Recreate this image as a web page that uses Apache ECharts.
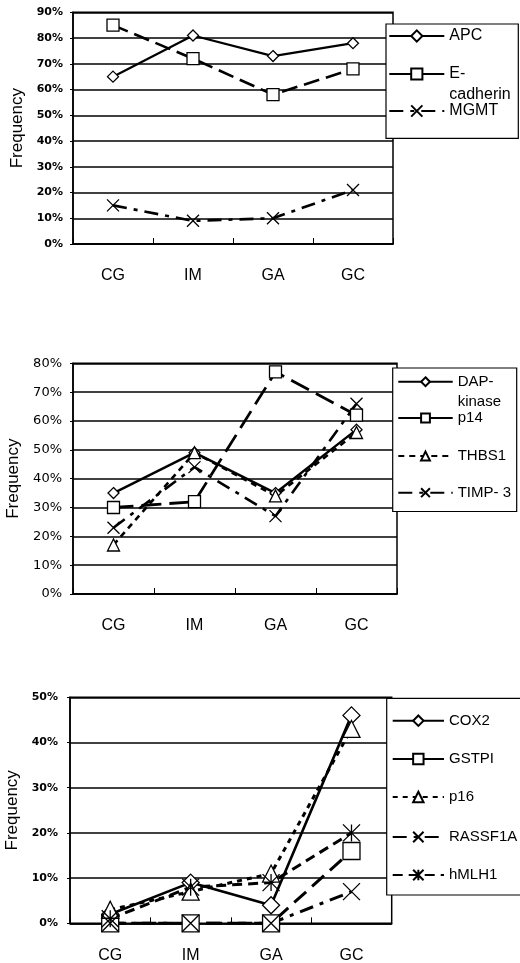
<!DOCTYPE html>
<html><head><meta charset="utf-8">
<script src="https://cdn.jsdelivr.net/npm/echarts@6/dist/echarts.min.js"></script>
<style>html,body{margin:0;padding:0;background:#fff}#c{width:520px;height:963px}</style>
</head><body><div id="c"></div>
<script>
// ---------- DATA ----------
const categories = ['CG', 'IM', 'GA', 'GC'];
const yAxisTitle = 'Frequency';
const yMax = [90, 80, 50];
const yStep = 10;

// Panel 1
const APC = [65, 81, 73, 78];
const E_cadherin = [85, 72, 58, 68];
const MGMT = [15, 9, 10, 21];
// Panel 2
const DAP_kinase = [35, 49, 35, 57];
const p14 = [30, 32, 77, 62];
const THBS1 = [17, 49, 34, 56];
const TIMP_3 = [23, 44, 27, 66];
// Panel 3
const COX2 = [2, 9, 4, 46];
const GSTPI = [0, 0, 0, 16];
const p16 = [3, 7, 11, 43];
const RASSF1A = [0, 0, 0, 7];
const hMLH1 = [1, 8, 9, 20];

const panelSeries = [
  [['APC', APC], ['E-cadherin', E_cadherin], ['MGMT', MGMT]],
  [['DAP-kinase', DAP_kinase], ['p14', p14], ['THBS1', THBS1], ['TIMP- 3', TIMP_3]],
  [['COX2', COX2], ['GSTPI', GSTPI], ['p16', p16], ['RASSF1A', RASSF1A], ['hMLH1', hMLH1]]
];
const legendLabel = { 'E-cadherin': '\nE-\ncadherin', 'DAP-kinase': '\nDAP-\nkinase' };

// ---------- STYLE / LAYOUT ----------
const ARIAL = 'Arial, "Liberation Sans", Helvetica, sans-serif';
const X_PATH = 'path://M0,0L10,10M10,0L0,10';
const AST_PATH = 'path://M0,0L10,10M10,0L0,10M5,0L5,10';

const grids = [
  { left: 73, top: 12.3, width: 320, height: 231.7 },
  { left: 73, top: 363.3, width: 324, height: 230.7 },
  { left: 70, top: 697.3, width: 321.7, height: 226 }
];
const yLabelStyle = [
  { fontFamily: '"DejaVu Sans", sans-serif', fontWeight: 'bold', fontSize: 11, margin: 10 },
  { fontFamily: '"DejaVu Sans", sans-serif', fontWeight: 'normal', fontSize: 13, margin: 11 },
  { fontFamily: '"DejaVu Sans", sans-serif', fontWeight: 'bold', fontSize: 11, margin: 12 }
];
const nameGaps = [40, 44, 39];

const seriesStyle = {
  'APC':        { symbol: 'diamond', size: 11, type: 'solid', width: 2.2 },
  'E-cadherin': { symbol: 'rect', size: 12, type: [16, 7], width: 2.6, legendSolid: true },
  'MGMT':       { symbol: X_PATH, size: 12, type: [14, 7, 4, 7], width: 2.6 },
  'DAP-kinase': { symbol: 'diamond', size: 11, type: 'solid', width: 2.4 },
  'p14':        { symbol: 'rect', size: 12, type: [20, 8], width: 2.8, legendSolid: true },
  'THBS1':      { symbol: 'triangle', size: 12, type: [6, 5], width: 2.6 },
  'TIMP- 3':    { symbol: X_PATH, size: 12, type: [14, 7, 4, 7], width: 2.6 },
  'COX2':       { symbol: 'diamond', size: 17, type: 'solid', width: 2.6 },
  'GSTPI':      { symbol: 'rect', size: 17, type: [16, 8], width: 3, legendSolid: true },
  'p16':        { symbol: 'triangle', size: 17, type: [5, 5], width: 3 },
  'RASSF1A':    { symbol: X_PATH, size: 17, type: [14, 7, 4, 7], width: 3 },
  'hMLH1':      { symbol: AST_PATH, size: 17, type: [10, 6], width: 3 }
};

const legendCfg = [
  { left: 388.3, iw: 55, ih: 14, fs: 16, lh: 21, tops: [25.5, 42.5, 100.5] },
  { left: 397.3, iw: 54.4, ih: 11, fs: 15, lh: 20, tops: [351.7, 408, 446, 482.7] },
  { left: 391.7, iw: 51.3, ih: 13, fs: 15, lh: 20, tops: [710.7, 749, 787, 827, 865] }
];
const boxes = [
  { x: 386, y: 24, width: 132.3, height: 114.3 },
  { x: 392.7, y: 368, width: 124, height: 143.5 },
  { x: 386.7, y: 698.3, width: 150, height: 196.7 }
];

// ---------- BUILD ----------
const xAxes = [], yAxes = [], series = [], legends = [];
grids.forEach((g, i) => {
  xAxes.push({
    type: 'category', gridIndex: i, data: categories, boundaryGap: true,
    axisLine: { show: true, lineStyle: { color: '#000', width: 1.5 } },
    axisTick: { show: true, inside: true, length: 6, interval: 0, alignWithLabel: false, lineStyle: { color: '#000', width: 1 } },
    axisLabel: { color: '#000', fontSize: 16, fontFamily: ARIAL, margin: 24, interval: 0 },
    splitLine: { show: false }
  });
  const ls = yLabelStyle[i];
  yAxes.push({
    type: 'value', gridIndex: i, min: 0, max: yMax[i], interval: yStep,
    name: yAxisTitle, nameLocation: 'middle', nameGap: nameGaps[i],
    nameTextStyle: { color: '#000', fontSize: 17, fontFamily: ARIAL },
    axisLine: { show: true, lineStyle: { color: '#000', width: 1.5 } },
    axisTick: { show: true, length: 3, lineStyle: { color: '#000' } },
    axisLabel: { color: '#000', fontSize: ls.fontSize, fontWeight: ls.fontWeight, fontFamily: ls.fontFamily, margin: ls.margin, formatter: '{value}%' },
    splitLine: { show: true, lineStyle: { color: '#000', width: 1.5 } }
  });
  const cfg = legendCfg[i];
  panelSeries[i].forEach(([name, values], k) => {
    const st = seriesStyle[name];
    series.push({
      type: 'line', name, data: values, xAxisIndex: i, yAxisIndex: i,
      symbol: st.symbol, symbolSize: st.size, showSymbol: true,
      lineStyle: { color: '#000', width: st.width, type: st.type },
      itemStyle: { color: '#fff', borderColor: '#000', borderWidth: 1.3 },
      emphasis: { disabled: true }, animation: false, z: 2
    });
    const lg = {
      data: [name], left: cfg.left, top: cfg.tops[k], orient: 'vertical',
      padding: 0, itemGap: 0, itemWidth: cfg.iw, itemHeight: cfg.ih,
      selectedMode: false, z: 20,
      textStyle: { color: '#000', fontSize: cfg.fs, lineHeight: cfg.lh, fontFamily: ARIAL },
      formatter: n => legendLabel[n] || n
    };
    if (st.legendSolid) lg.lineStyle = { type: 'solid' };
    legends.push(lg);
  });
});

const chart = echarts.init(document.getElementById('c'), null, { renderer: 'canvas' });
chart.setOption({
  backgroundColor: '#fff',
  animation: false,
  grid: grids.map(g => Object.assign({ show: true, borderColor: '#000', borderWidth: 1.5, backgroundColor: 'transparent', containLabel: false, outerBoundsMode: 'none' }, g)),
  xAxis: xAxes,
  yAxis: yAxes,
  legend: legends,
  graphic: { elements: boxes.map(b => ({ type: 'rect', z: 10, shape: b, style: { fill: '#fff', stroke: '#000', lineWidth: 1.2 } })) },
  series
});
</script></body></html>
